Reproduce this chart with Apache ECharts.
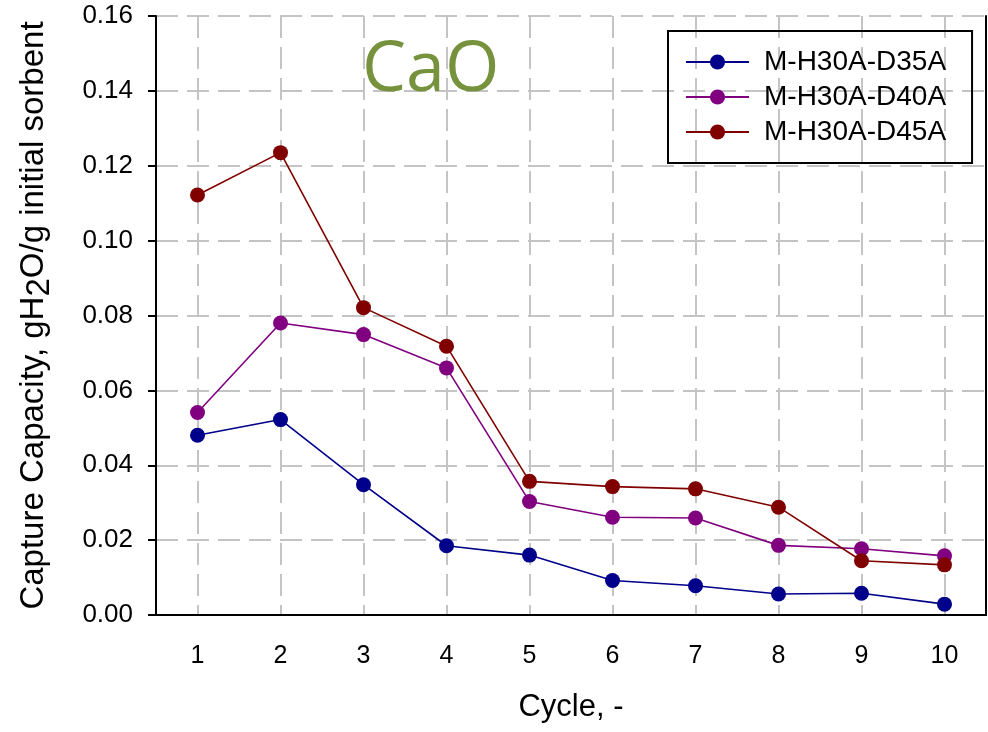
<!DOCTYPE html>
<html>
<head>
<meta charset="utf-8">
<script src="https://cdn.jsdelivr.net/npm/echarts@6/dist/echarts.min.js"></script>
<style>
  html, body { margin: 0; padding: 0; background: #fff; }
  #chart { width: 988px; height: 732px; }
</style>
</head>
<body>
<div id="chart"></div>
<script>
// cycles on the x axis
var cycles = ['1', '2', '3', '4', '5', '6', '7', '8', '9', '10']
// capture capacity, gH2O/g initial sorbent
var d35 = [0.0480, 0.0522, 0.0348, 0.0185, 0.0160, 0.0092, 0.0078, 0.0056, 0.0058, 0.0029]
var d40 = [0.0541, 0.0780, 0.0749, 0.0660, 0.0303, 0.0261, 0.0259, 0.0186, 0.0177, 0.0158]
var d45 = [0.1122, 0.1235, 0.0821, 0.0718, 0.0357, 0.0343, 0.0337, 0.0288, 0.0145, 0.0134]
var seriesNames = ['M-H30A-D35A', 'M-H30A-D40A', 'M-H30A-D45A']
var seriesColors = ['#00008b', '#800080', '#800000']

var font = 'Liberation Sans, Arial, sans-serif'
var gridLine = {
  show: true,
  lineStyle: { color: '#c4c4c4', width: 2, type: [22, 9] }
}
var blackLine = { lineStyle: { color: '#000', width: 2 } }

function makeSeries(name, data, color) {
  return {
    name: name,
    type: 'line',
    data: data,
    symbol: 'circle',
    symbolSize: 15,
    itemStyle: { color: color },
    lineStyle: { color: color, width: 1.6 },
    z: 3
  }
}

var myChart = echarts.init(document.getElementById('chart'))
var option = {
  animation: false,
  backgroundColor: '#fff',
  grid: {
    left: 156,
    right: 2,
    top: 16,
    bottom: 117,
    containLabel: false
  },
  legend: {
    left: 668,
    top: 31,
    orient: 'vertical',
    data: seriesNames,
    borderColor: '#000',
    borderWidth: 2,
    padding: [17, 26, 17, 17],
    itemWidth: 63,
    itemHeight: 19,
    itemGap: 7,
    textStyle: {
      fontFamily: font,
      fontSize: 28,
      lineHeight: 28,
      color: '#000',
      padding: [0, 0, 0, 10]
    }
  },
  graphic: [
    {
      type: 'text',
      left: 362,
      top: 36,
      style: {
        text: 'CaO',
        fontFamily: 'Open Sans, sans-serif',
        fontSize: 70,
        fill: '#76923c'
      },
      z: 10
    }
  ],
  xAxis: [
    {
      type: 'category',
      data: cycles,
      boundaryGap: true,
      name: 'Cycle, -',
      nameLocation: 'middle',
      nameGap: 77,
      nameTextStyle: { fontFamily: font, fontSize: 31, color: '#000' },
      axisLine: blackLine,
      axisTick: { alignWithLabel: true, length: 8, lineStyle: { color: '#000', width: 2 } },
      axisLabel: { margin: 29, fontFamily: font, fontSize: 25, color: '#000' },
      splitLine: Object.assign({ alignWithLabel: true }, gridLine)
    },
    {
      // top frame line
      type: 'category',
      data: cycles,
      position: 'top',
      axisLine: blackLine,
      axisTick: { show: false },
      axisLabel: { show: false },
      splitLine: { show: false }
    }
  ],
  yAxis: [
    {
      type: 'value',
      min: 0,
      max: 0.16,
      interval: 0.02,
      name: 'Capture Capacity, gH{sub|2}O/g initial sorbent',
      nameLocation: 'middle',
      nameGap: 144,
      nameTextStyle: {
        fontFamily: font,
        fontSize: 33,
        color: '#000',
        verticalAlign: 'top',
        rich: {
          sub: { fontFamily: font, fontSize: 33, color: '#000', padding: [11, 0, 0, 0] }
        }
      },
      axisLine: { show: true, lineStyle: { color: '#000', width: 2 } },
      axisTick: { show: true, length: 8, lineStyle: { color: '#000', width: 2 } },
      axisLabel: {
        margin: 23,
        fontFamily: font,
        fontSize: 26,
        color: '#000',
        formatter: function (v) { return v.toFixed(2) }
      },
      splitLine: gridLine
    },
    {
      // right frame line
      type: 'value',
      min: 0,
      max: 0.16,
      interval: 0.02,
      position: 'right',
      axisLine: { show: true, lineStyle: { color: '#000', width: 2 } },
      axisTick: { show: false },
      axisLabel: { show: false },
      splitLine: { show: false }
    }
  ],
  series: [
    makeSeries(seriesNames[0], d35, seriesColors[0]),
    makeSeries(seriesNames[1], d40, seriesColors[1]),
    makeSeries(seriesNames[2], d45, seriesColors[2])
  ]
}
myChart.setOption(option)
window.onresize = myChart.resize
</script>
</body>
</html>
